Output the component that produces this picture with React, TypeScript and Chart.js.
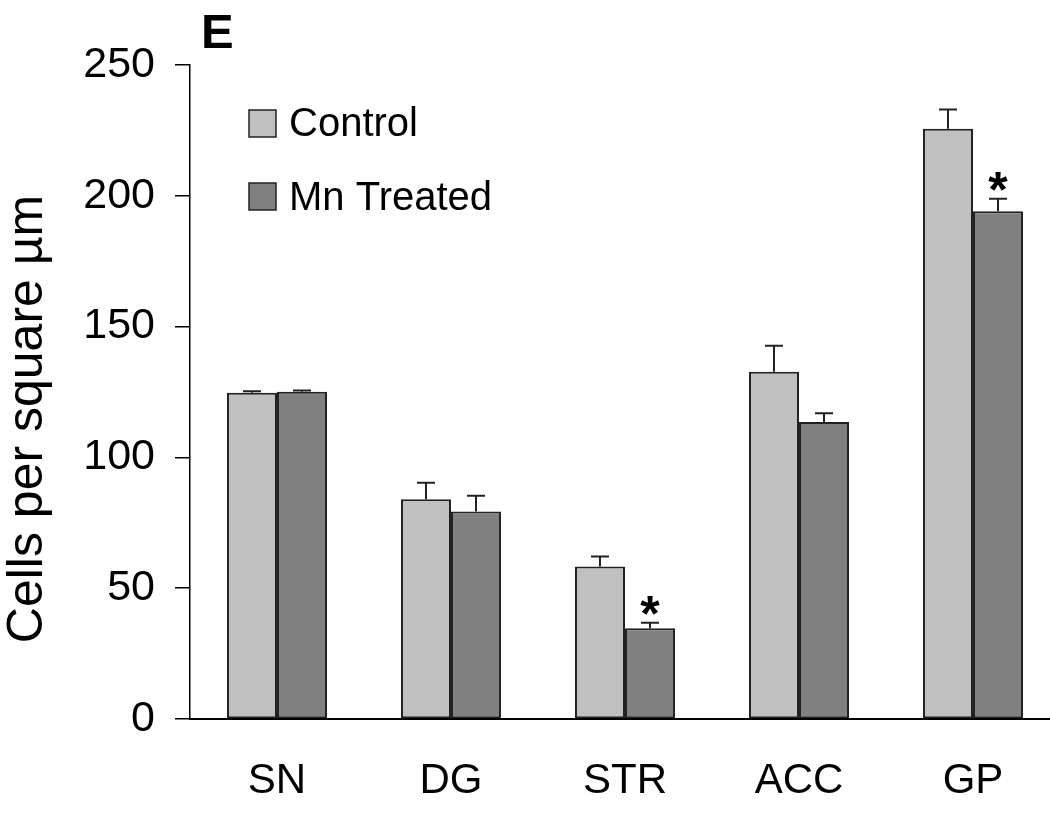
import React, { useEffect, useRef } from "react";
import { Chart, registerables } from "chart.js";

Chart.register(...registerables);

const categories = ["SN", "DG", "STR", "ACC", "GP"];
const seriesNames = ["Control", "Mn Treated"];
const controlValues = [124.7, 84.0, 58.3, 132.7, 225.6];
const mnValues = [125.1, 79.3, 34.7, 113.5, 194.1];
const controlErrors = [0.6, 6.3, 3.8, 10.0, 7.4];
const mnErrors = [0.5, 6.0, 2.1, 3.4, 4.8];
const controlSignificant = [false, false, false, false, false];
const mnSignificant = [false, false, true, false, true];
const yMin = 0;
const yMax = 250;
const yStep = 50;
const yAxisTitle = "Cells per square µm";
const panelLetter = "E";

const FONT = '"Liberation Sans", Arial, sans-serif';
const seriesColors = ["#c0c0c0", "#808080"];

const errorBarPlugin = {
  id: "errorBars",
  afterDatasetsDraw(chart: any) {
    const ctx = chart.ctx;
    const y = chart.scales.y;
    chart.data.datasets.forEach((ds: any, di: number) => {
      const meta = chart.getDatasetMeta(di);
      meta.data.forEach((bar: any, i: number) => {
        const v = ds.data[i];
        const e = ds.errors[i];
        const top = y.getPixelForValue(v + e);
        ctx.save();
        ctx.strokeStyle = "#222";
        ctx.lineWidth = 2;
        ctx.beginPath();
        ctx.moveTo(bar.x, bar.y);
        ctx.lineTo(bar.x, top);
        ctx.moveTo(bar.x - 9, top);
        ctx.lineTo(bar.x + 9, top);
        ctx.stroke();
        if (ds.significant[i]) {
          ctx.fillStyle = "#000";
          ctx.font = `bold 50px ${FONT}`;
          ctx.textAlign = "center";
          ctx.textBaseline = "alphabetic";
          ctx.fillText("*", bar.x, top + 8);
        }
        ctx.restore();
      });
    });
  },
};

const annotationsPlugin = {
  id: "annotations",
  afterDraw(chart: any) {
    const ctx = chart.ctx;
    ctx.save();
    // panel letter
    ctx.fillStyle = "#000";
    ctx.font = `900 49px ${FONT}`;
    ctx.textAlign = "left";
    ctx.textBaseline = "alphabetic";
    ctx.fillText(panelLetter, 201, 48);
    // y axis title
    ctx.save();
    ctx.translate(42, 419);
    ctx.rotate(-Math.PI / 2);
    ctx.font = `50px ${FONT}`;
    ctx.textAlign = "center";
    ctx.fillText(yAxisTitle, 0, 0);
    ctx.restore();
    // legend
    chart.data.datasets.forEach((ds: any, i: number) => {
      const bx = 249;
      const by = 110 + i * 73;
      ctx.fillStyle = ds.backgroundColor;
      ctx.fillRect(bx, by, 27, 27);
      ctx.strokeStyle = "#222";
      ctx.lineWidth = 1.5;
      ctx.strokeRect(bx, by, 27, 27);
      ctx.fillStyle = "#000";
      ctx.font = `40px ${FONT}`;
      ctx.textAlign = "left";
      ctx.textBaseline = "alphabetic";
      ctx.fillText(ds.label, 289, 136 + i * 74);
    });
    ctx.restore();
  },
};

export default function App() {
  const ref = useRef<HTMLCanvasElement>(null);
  useEffect(() => {
    if (!ref.current) return;
    const chart = new Chart(ref.current, {
      type: "bar",
      data: {
        labels: categories,
        datasets: [
          {
            label: seriesNames[0],
            data: controlValues,
            errors: controlErrors,
            significant: controlSignificant,
            backgroundColor: seriesColors[0],
            borderColor: "#222",
            borderWidth: 2,
            borderSkipped: false,
          } as any,
          {
            label: seriesNames[1],
            data: mnValues,
            errors: mnErrors,
            significant: mnSignificant,
            backgroundColor: seriesColors[1],
            borderColor: "#222",
            borderWidth: 2,
            borderSkipped: false,
          } as any,
        ],
      },
      options: {
        responsive: false,
        animation: false,
        devicePixelRatio: 1,
        layout: { padding: { top: 65, right: 2, left: 0, bottom: 0 } },
        datasets: {
          bar: { categoryPercentage: 0.575, barPercentage: 1 },
        },
        plugins: {
          legend: { display: false },
          tooltip: { enabled: false },
          title: { display: false },
        },
        scales: {
          x: {
            grid: { display: false, drawTicks: false },
            border: { display: true, color: "#000", width: 2 },
            ticks: {
              color: "#000",
              font: { family: FONT, size: 42 },
              padding: 37,
            },
            afterFit: (scale: any) => {
              scale.height = 94;
            },
          },
          y: {
            min: yMin,
            max: yMax,
            ticks: {
              stepSize: yStep,
              color: "#000",
              font: { family: FONT, size: 43 },
              padding: 20,
            },
            grid: {
              drawOnChartArea: false,
              drawTicks: true,
              tickLength: 15,
              color: "#000",
              lineWidth: 1.5,
            },
            border: { display: true, color: "#000", width: 1.5 },
            afterFit: (scale: any) => {
              scale.width = 190;
            },
          },
        },
      },
      plugins: [errorBarPlugin, annotationsPlugin],
    });
    return () => chart.destroy();
  }, []);
  return (
    <div
      style={{
        position: "absolute",
        left: 0,
        top: 0,
        width: 1050,
        height: 813,
        overflow: "hidden",
        background: "#fff",
      }}
    >
      <canvas ref={ref} width={1062} height={813} style={{ display: "block" }} />
    </div>
  );
}
